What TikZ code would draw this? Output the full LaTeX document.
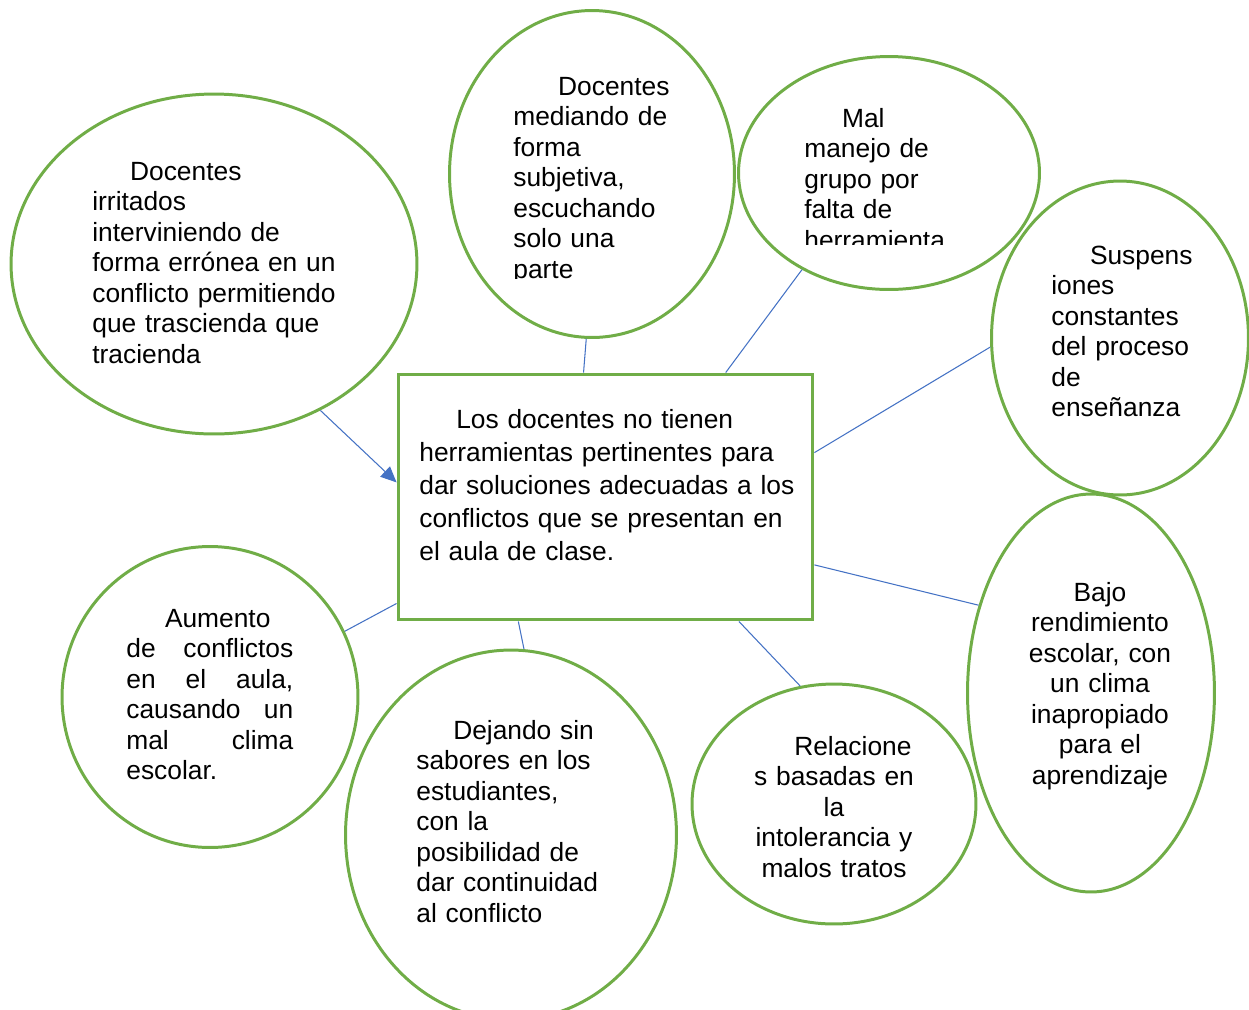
\documentclass[tikz,border=0pt]{standalone}
\usepackage{fontspec}
\setmainfont{Liberation Sans}
\usetikzlibrary{shapes.geometric}
\usetikzlibrary{arrows.meta}
\definecolor{mygreen}{HTML}{70AD47}
\definecolor{myblue}{HTML}{4472C4}
\tikzset{
    mybubble/.style = {ellipse, line width=1.7pt, draw=mygreen, inner sep=0pt},
    mybox/.style = {rectangle, line width=1.7pt, draw=mygreen, inner sep=0pt, minimum width=8.30cm, minimum height=4.92cm},
    mytext/.style = {inner sep=0pt, align=left, font=\fontsize{15pt}{17.39pt}\selectfont, text=black},
    mytextc/.style = {inner sep=0pt, align=center, font=\fontsize{15pt}{17.39pt}\selectfont, text=black},
    edgeb/.style = {-, line width=0.6pt, myblue},
    edgea/.style = {-{Triangle[length=9pt,width=8pt]}, line width=0.6pt, myblue},
}
\newcommand{\myind}[1][21.5pt]{\hspace*{#1}}
\newcommand{\myjust}[1]{\makebox[3.34cm][s]{#1}}

\begin{document}
\begin{tikzpicture}[x=0.02cm, y=-0.02cm]
\path[use as bounding box] (0,0) rectangle (1249,1009);
%
\node[mybubble, minimum width=8.12cm, minimum height=6.80cm] at (214,264) (irritados) {};
\node[mybubble, minimum width=5.70cm, minimum height=6.54cm] at (592,174) (mediando) {};
\node[mybubble, minimum width=6.02cm, minimum height=4.66cm] at (889,173) (manejo) {};
\node[mybubble, minimum width=5.14cm, minimum height=6.28cm] at (1120,338) (suspensiones) {};
\node[mybubble, minimum width=4.94cm, minimum height=7.96cm] at (1091,693) (bajo) {};
\node[mybubble, minimum width=5.68cm, minimum height=4.80cm] at (834,804) (relaciones) {};
\node[mybubble, minimum width=6.62cm, minimum height=7.40cm] at (511,835) (dejando) {};
\node[mybubble, minimum width=5.92cm, minimum height=6.02cm] at (210,697) (aumento) {};
\node[mybox] at (605.5,497) (problema) {};
%
\node[mytext, text width=5.2cm, anchor=base west] at (92,180) (irritadostxt) {\myind Docentes\\irritados\\interviniendo de\\forma errónea en un\\conflicto permitiendo\\que trascienda que\\tracienda};
\begin{scope}
\clip (500,0) rectangle (740,278);
\node[mytext, text width=3.6cm, anchor=base west] at (513,95) (mediandotxt) {\myind[25.5pt]Docentes\\mediando de\\forma\\subjetiva,\\escuchando\\solo una\\parte};
\end{scope}
\begin{scope}
\clip (790,0) rectangle (1000,244);
\node[mytext, text width=3.4cm, anchor=base west] at (804,127) (manejotxt) {\myind Mal\\manejo de\\grupo por\\falta de\\herramienta};
\end{scope}
\node[mytext, text width=3.4cm, anchor=base west] at (1051,264) (suspensionestxt) {\myind[22pt]Suspens\\iones\\constantes\\del proceso\\de\\enseñanza};
\node[mytextc, text width=3.4cm, anchor=base] at (1100,601) (bajotxt) {Bajo\\rendimiento\\escolar, con\\un clima\\inapropiado\\para el\\aprendizaje};
\node[mytextc, text width=3.4cm, anchor=base] at (834,755) (relacionestxt) {\myind Relacione\\s basadas en\\la\\intolerancia y\\malos tratos};
\node[mytext, text width=3.9cm, anchor=base west] at (416,739) (dejandotxt) {\myind[21pt]Dejando sin\\sabores en los\\estudiantes,\\con la\\posibilidad de\\dar continuidad\\al conflicto};
\node[mytext, text width=3.34cm, anchor=base west] at (126,627) (aumentotxt) {\myind[22pt]Aumento\\\myjust{de\hfill conflictos}\\\myjust{en\hfill el\hfill aula,}\\\myjust{causando\hfill un}\\\myjust{mal\hfill clima}\\escolar.};
\node[mytext, text width=7.7cm, anchor=base west, font=\fontsize{15pt}{18.85pt}\selectfont] at (419,428) (problematxt) {\myind[21pt]Los docentes no tienen\\herramientas pertinentes para\\dar soluciones adecuadas a los\\conflictos que se presentan en\\el aula de clase.};
%
\draw[edgea] (irritados.-54) -- (problema.176.7);
\draw[edgeb] (mediando.-92.4) -- (problema.100.4);
\draw[edgeb] (manejo.-132.3) -- (problema.46.6);
\draw[edgeb] (suspensiones.-176.9) -- (problema.12);
\draw[edgeb] (bajo.142.2) -- (problema.-18.4);
\draw[edgeb] (relaciones.106.2) -- (problema.-43.5);
\draw[edgeb] (dejando.86.9) -- (problema.-125.5);
\draw[edgeb] (aumento.26.4) -- (problema.-153.8);

\end{tikzpicture}
\end{document}
